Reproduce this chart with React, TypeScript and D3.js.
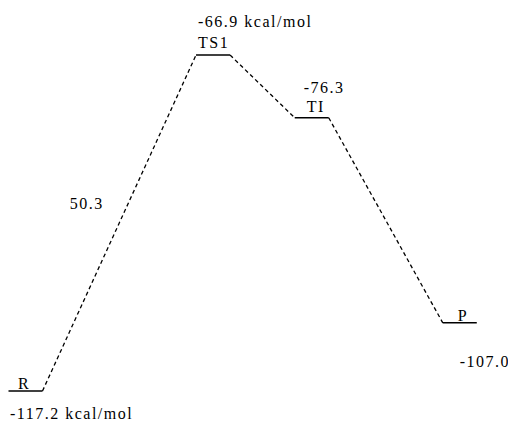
import React, { useEffect, useRef } from "react";
import * as d3 from "d3";

const species = ["R", "TS1", "TI", "P"];
const energies = [-117.2, -66.9, -76.3, -107.0];
const reactionCoord = [0, 1.9, 2.9, 4.4];
const energyLabels = ["-117.2 kcal/mol", "-66.9 kcal/mol", "-76.3", "-107.0"];
const barrierLabel = "50.3";

const W = 508;
const H = 425;

// layout offsets (placement only)
const nameOffset = [
  { dx: -7.5, dy: -2 },
  { dx: -15, dy: -7 },
  { dx: -5, dy: -6 },
  { dx: -2, dy: -2 },
];
const energyOffset = [
  { dx: -15.5, dy: 28 },
  { dx: -15, dy: -28 },
  { dx: -8, dy: -25 },
  { dx: 0, dy: 44 },
];

const FONT = "Liberation Serif";
const SPACING = 1.5;

export default function App() {
  const svgRef = useRef<SVGSVGElement>(null);
  const x = d3.scaleLinear().domain([0, 1]).range([25.5, 124.2]);
  const y = d3.scaleLinear().domain([-117.2, -66.9]).range([391, 55]);
  const half = 17;

  const levels = species.map((s, i) => ({
    name: s,
    cx: x(reactionCoord[i]),
    cy: y(energies[i]),
  }));

  const connectors = levels.slice(0, -1).map((a, i) => {
    const b = levels[i + 1];
    return { x1: a.cx + half, y1: a.cy, x2: b.cx - half, y2: b.cy };
  });

  const c0 = connectors[0];
  const mid = { x: (c0.x1 + c0.x2) / 2, y: (c0.y1 + c0.y2) / 2 };

  useEffect(() => {
    if (!svgRef.current) return;
    d3.select(svgRef.current)
      .selectAll<SVGTextElement, unknown>("text.lbl")
      .each(function () {
        const n = (this.textContent || "").length;
        const w = this.getComputedTextLength();
        this.setAttribute("textLength", String(w + SPACING * (n - 1)));
        this.setAttribute("lengthAdjust", "spacing");
      });
  }, []);

  const T = (props: any) => (
    <text
      className="lbl"
      fontFamily={FONT}
      fontSize={16}
      fill="#000"
      {...props}
    />
  );

  return (
    <svg
      ref={svgRef}
      width={W}
      height={H}
      style={{ position: "absolute", left: 0, top: 0, background: "#fff" }}
    >
      {connectors.map((c, i) => (
        <line
          key={"c" + i}
          x1={c.x1}
          y1={c.y1}
          x2={c.x2}
          y2={c.y2}
          stroke="#000"
          strokeWidth={1.3}
          strokeDasharray="4,3"
        />
      ))}
      {levels.map((l, i) => (
        <line
          key={"l" + i}
          x1={l.cx - half}
          x2={l.cx + half}
          y1={l.cy}
          y2={l.cy}
          stroke="#000"
          strokeWidth={1.5}
        />
      ))}
      {levels.map((l, i) => (
        <T key={"n" + i} x={l.cx + nameOffset[i].dx} y={l.cy + nameOffset[i].dy}>
          {l.name}
        </T>
      ))}
      {levels.map((l, i) => (
        <T
          key={"e" + i}
          x={l.cx + energyOffset[i].dx}
          y={l.cy + energyOffset[i].dy}
        >
          {energyLabels[i]}
        </T>
      ))}
      <T x={mid.x - 49.5} y={mid.y - 14}>
        {barrierLabel}
      </T>
    </svg>
  );
}
